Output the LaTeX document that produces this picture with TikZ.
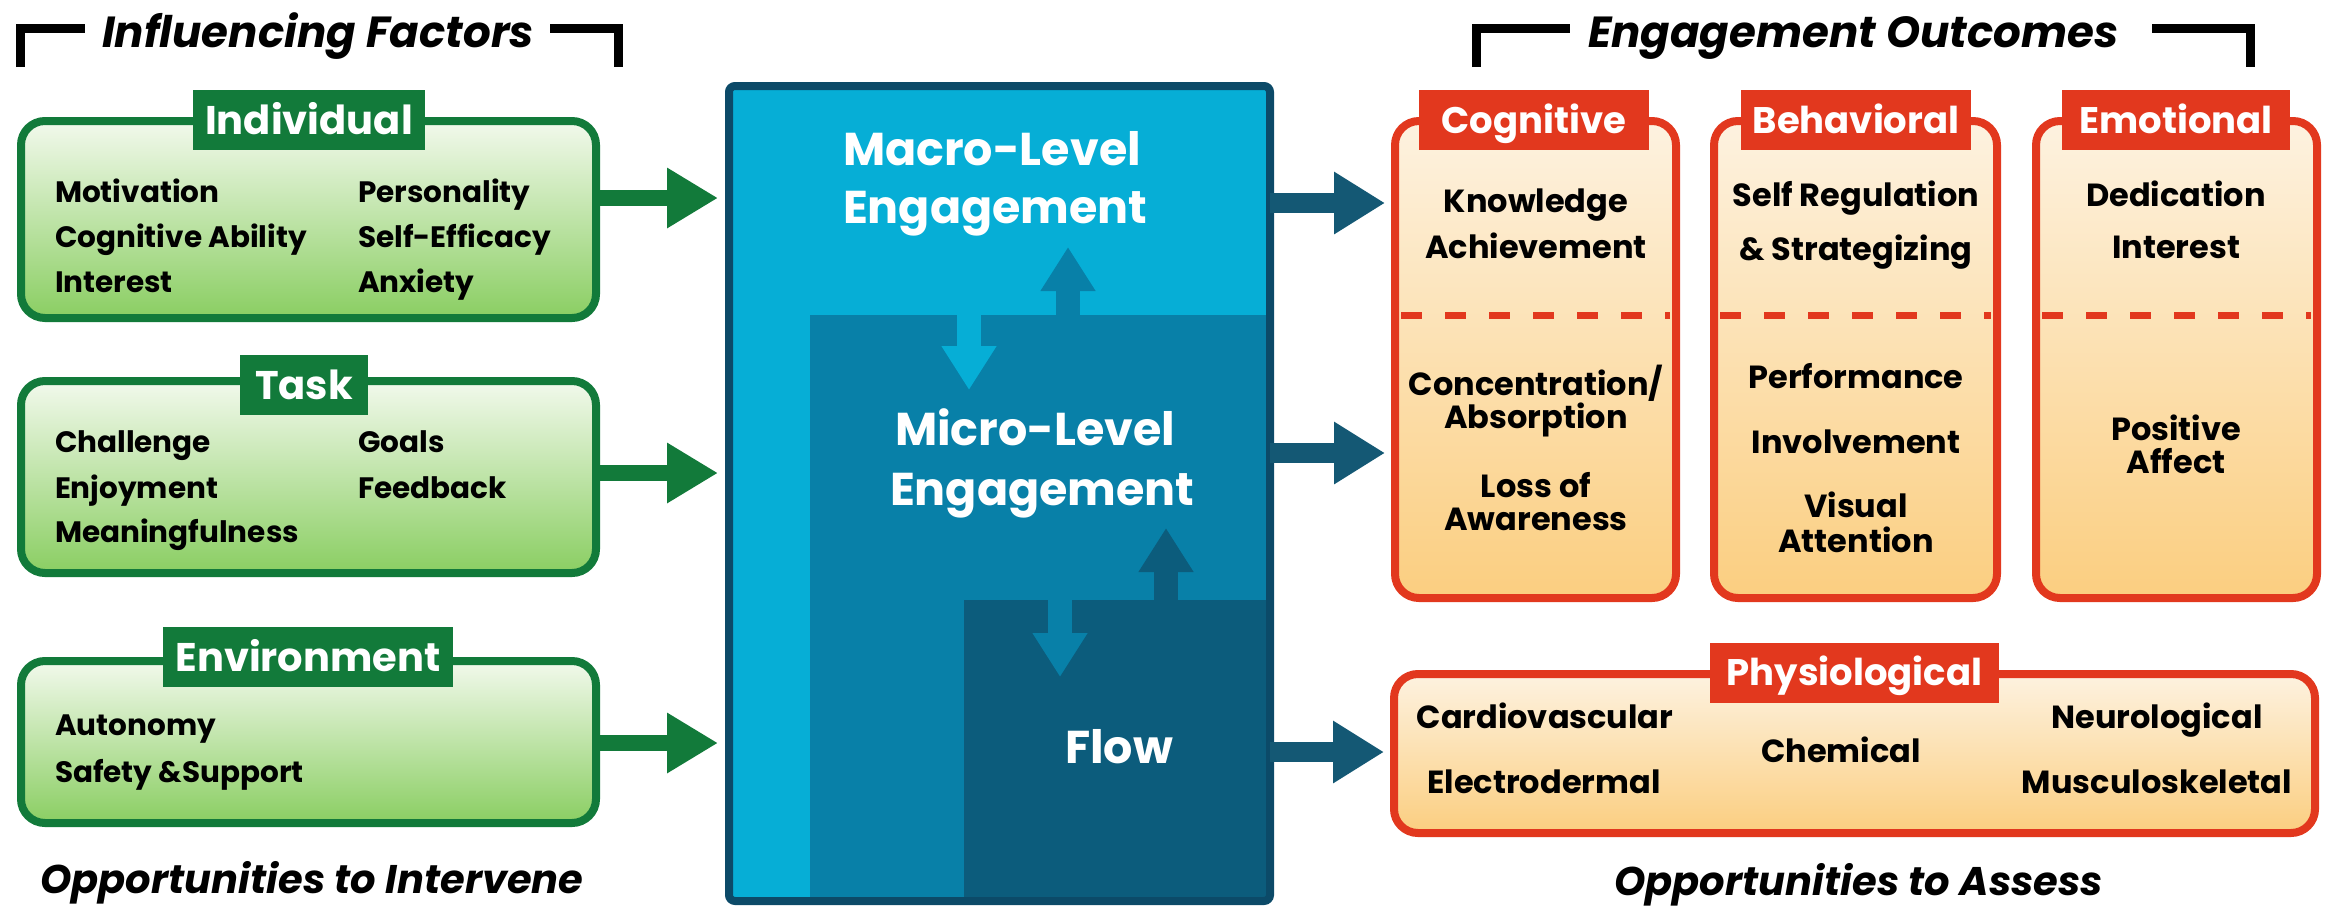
\documentclass[tikz,border=0pt]{standalone}
\usepackage{fontspec}
\setmainfont{Poppins}
\usetikzlibrary{arrows.meta,calc}
\definecolor{gdark}{RGB}{18,122,58}
\definecolor{gtop}{RGB}{242,249,236}
\definecolor{gbot}{RGB}{138,206,98}
\definecolor{bborder}{RGB}{12,74,104}
\definecolor{bmacro}{RGB}{6,174,214}
\definecolor{bmicro}{RGB}{8,128,168}
\definecolor{bflow}{RGB}{12,92,124}
\definecolor{barrow}{RGB}{20,88,116}
\definecolor{rred}{RGB}{226,56,30}
\definecolor{rtop}{RGB}{253,242,224}
\definecolor{rbot}{RGB}{251,206,128}
\begin{document}
\begin{tikzpicture}[x=1pt,y=-1pt,
  every node/.style={inner sep=0pt,outer sep=0pt},
  gbox/.style={draw=gdark,line width=8pt,rounded corners=24pt,top color=gtop,bottom color=gbot,minimum width=575pt},
  rbox/.style={draw=rred,line width=8pt,rounded corners=24pt,top color=rtop,bottom color=rbot},
  glabel/.style={fill=gdark,text=white,font=\bfseries\fontsize{40}{40}\selectfont,minimum height=60pt,text height=28pt,text depth=0pt},
  rlabel/.style={fill=rred,text=white,font=\bfseries\fontsize{37}{37}\selectfont,minimum height=60pt,text height=26pt,text depth=0pt},
  gtext/.style={anchor=base west,font=\bfseries\fontsize{29.5}{36}\selectfont},
  rtext/.style={anchor=base,font=\bfseries\fontsize{32}{38}\selectfont},
  btext/.style={anchor=base west,text=white,font=\bfseries\fontsize{46}{46}\selectfont},
  headtext/.style={anchor=base west,font=\bfseries\itshape\fontsize{43.5}{45}\selectfont},
  foottext/.style={anchor=base west,font=\bfseries\itshape\fontsize{40}{40}\selectfont},
  bracket/.style={line width=9pt},
  garrow/.style={draw=gdark,line width=16pt,-{Triangle[length=51pt,width=57pt]},shorten >=11pt},
  rarrow/.style={draw=barrow,line width=20pt,-{Triangle[length=51pt,width=59pt]},shorten >=10pt},
  inarrow/.style={line width=24pt,-{Triangle[length=44pt,width=52pt]}},
  reddash/.style={draw=rred,line width=7pt,dash pattern=on 21pt off 23pt,shorten <=6pt,shorten >=6pt}
]
\useasboundingbox (0,0) rectangle (2336,908);

% ---------- headers ----------
\node[headtext] (hl) at (102,47) {Influencing Factors};
\draw[bracket] (20,67) -- (20,28) -- (85,28);
\draw[bracket] (550,28) -- (618,28) -- (618,67);
\node[headtext] (hr) at (1588,47) {Engagement Outcomes};
\draw[bracket] (1476,67) -- (1476,28) -- (1570,28);
\draw[bracket] (2152,28) -- (2250,28) -- (2250,67);

\node[foottext] (fl) at (40,893) {Opportunities to Intervene};
\node[foottext] (fr) at (1614,895) {Opportunities to Assess};

% ---------- green boxes ----------
\node[gbox,minimum height=197pt] (ind) at (308.5,219.5) {};
\node[gbox,minimum height=192pt] (task) at (308.5,477) {};
\node[gbox,minimum height=162pt] (env) at (308.5,742) {};
\node[glabel,minimum width=232pt] (indl) at (309,120) {Individual};
\node[glabel,minimum width=128pt] (taskl) at (304,385) {Task};
\node[glabel,minimum width=290pt] (envl) at (308,657) {Environment};

\node[gtext] at (55,202) {Motivation};
\node[gtext] at (55,247) {Cognitive Ability};
\node[gtext] at (55,292) {Interest};
\node[gtext] at (358,202) {Personality};
\node[gtext] at (358,247) {Self-Efficacy};
\node[gtext] at (358,292) {Anxiety};
\node[gtext] at (55,452) {Challenge};
\node[gtext] at (55,498) {Enjoyment};
\node[gtext] at (55,542) {Meaningfulness};
\node[gtext] at (358,452) {Goals};
\node[gtext] at (358,498) {Feedback};
\node[gtext] at (55,735) {Autonomy};
\node[gtext] at (55,782) {Safety \&Support};

% ---------- blue engagement box ----------
\node[fill=bmacro,rounded corners=6pt,minimum width=541pt,minimum height=815pt] (eng) at (999.5,493.5) {};
\fill[bmicro] (810,315) rectangle (1266,897);
\fill[bflow] (964,600) rectangle (1266,897);
\coordinate (a1s) at (969,313); \coordinate (a1e) at (969,390);
\coordinate (a2s) at (1068,317); \coordinate (a2e) at (1068,247);
\coordinate (a3s) at (1060,598); \coordinate (a3e) at (1060,677);
\coordinate (a4s) at (1166,602); \coordinate (a4e) at (1166,528);
\draw[inarrow,bmacro] (a1s) -- (a1e);
\draw[inarrow,bmicro] (a2s) -- (a2e);
\draw[inarrow,bmicro] (a3s) -- (a3e);
\draw[inarrow,bflow] (a4s) -- (a4e);
\draw[bborder,line width=8pt,rounded corners=6pt] (eng.south west) rectangle (eng.north east);

\node[btext] (mac1) at (843,165) {Macro-Level};
\node[btext] (mac2) at (843,223) {Engagement};
\node[btext] (mic1) at (895,445) {Micro-Level};
\node[btext] (mic2) at (890,505) {Engagement};
\node[btext] (flow) at (1065,763) {Flow};

% ---------- red boxes ----------
\node[rbox,minimum width=281pt,minimum height=477pt] (cog) at (1535.5,359.5) {};
\node[rbox,minimum width=283pt,minimum height=477pt] (beh) at (1855.5,359.5) {};
\node[rbox,minimum width=281pt,minimum height=477pt] (emo) at (2176.5,359.5) {};
\node[rbox,minimum width=921pt,minimum height=159pt] (phy) at (1854.5,753.5) {};

\coordinate (dy) at (0,315);
\draw[reddash] (cog.west |- dy) -- (cog.east |- dy);
\draw[reddash] (beh.west |- dy) -- (beh.east |- dy);
\draw[reddash] (emo.west |- dy) -- (emo.east |- dy);

\node[rlabel,minimum width=230pt] (cogl) at (1534,120) {Cognitive};
\node[rlabel,minimum width=230pt] (behl) at (1856,120) {Behavioral};
\node[rlabel,minimum width=228pt] (emol) at (2176,120) {Emotional};
\node[rlabel,minimum width=289pt] (phyl) at (1854.5,672.5) {Physiological};

\node[rtext] at (1536,212) {Knowledge};
\node[rtext] at (1536,258) {Achievement};
\node[rtext] at (1536,395) {Concentration/};
\node[rtext] at (1536,428) {Absorption};
\node[rtext] at (1536,497) {Loss of};
\node[rtext] at (1536,530) {Awareness};

\node[rtext] at (1856,206) {Self Regulation};
\node[rtext] at (1856,260) {\& Strategizing};
\node[rtext] at (1856,388) {Performance};
\node[rtext] at (1856,453) {Involvement};
\node[rtext] at (1856,517) {Visual};
\node[rtext] at (1856,552) {Attention};

\node[rtext] at (2176,206) {Dedication};
\node[rtext] at (2176,258) {Interest};
\node[rtext] at (2176,440) {Positive};
\node[rtext] at (2176,473) {Affect};

\node[rtext] at (1545,728) {Cardiovascular};
\node[rtext] at (1544,793) {Electrodermal};
\node[rtext] at (1841,762) {Chemical};
\node[rtext] at (2157,728) {Neurological};
\node[rtext] at (2157,793) {Musculoskeletal};

% ---------- arrows ----------
\coordinate (g1) at (0,198);
\coordinate (g2) at (0,473);
\coordinate (g3) at (0,743);
\draw[garrow] (ind.east |- g1) -- (eng.west |- g1);
\draw[garrow] (task.east |- g2) -- (eng.west |- g2);
\draw[garrow] (env.east |- g3) -- (eng.west |- g3);

\coordinate (r1) at (0,203);
\coordinate (r2) at (0,453);
\coordinate (r3) at (0,752);
\draw[rarrow] (eng.east |- r1) -- (cog.west |- r1);
\draw[rarrow] (eng.east |- r2) -- (cog.west |- r2);
\draw[rarrow] (eng.east |- r3) -- (phy.west |- r3);
\end{tikzpicture}
\end{document}
